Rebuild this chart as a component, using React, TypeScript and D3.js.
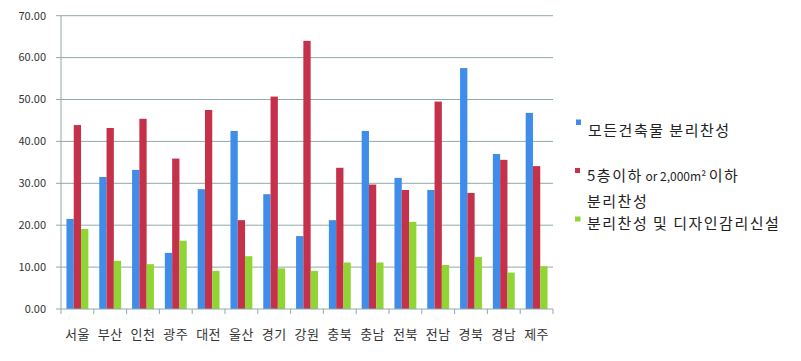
import React from "react";
import * as d3 from "d3";

const categories = ["서울", "부산", "인천", "광주", "대전", "울산", "경기", "강원", "충북", "충남", "전북", "전남", "경북", "경남", "제주"];
const allBuildings = [21.5, 31.5, 33.2, 13.4, 28.6, 42.5, 27.4, 17.4, 21.2, 42.5, 31.3, 28.4, 57.5, 37.0, 46.8];
const smallBuildings = [43.9, 43.2, 45.4, 35.9, 47.5, 21.2, 50.7, 64.0, 33.7, 29.7, 28.4, 49.5, 27.7, 35.6, 34.1];
const designSupervision = [19.1, 11.5, 10.7, 16.3, 9.1, 12.6, 9.7, 9.1, 11.1, 11.1, 20.8, 10.5, 12.4, 8.7, 10.2];
const seriesNames = ["모든건축물 분리찬성", "5층이하| or 2,000m² |이하|분리찬성", "분리찬성 및 디자인감리신설"];
const yTicks = [0, 10, 20, 30, 40, 50, 60, 70];

const colors = ["#3F8DE8", "#C5304A", "#8FD534"];
const gridColor = "#8FAAAA";
const font = "'Noto Sans CJK KR', 'Noto Sans', sans-serif";

export default function App() {
  const left = 61, right = 553, top = 15.7, bottom = 309;
  const x = d3.scaleBand<string>().domain(categories).range([left, right]).paddingInner(0).paddingOuter(0);
  const y = d3.scaleLinear().domain([0, 70]).range([bottom, top]);
  const inner = d3.scaleBand<number>().domain([0, 1, 2]).range([0, x.bandwidth()]).paddingInner(0).paddingOuter(0.75);
  const series = [allBuildings, smallBuildings, designSupervision];
  const bw = inner.bandwidth();
  const lf = 15;
  const ls = 1.5;
  const parts = seriesNames[1].split("|");

  return (
    <svg width={801} height={361} style={{ position: "absolute", left: 0, top: 0, background: "#fff" }}>
      {yTicks.map((t) => (
        <g key={t}>
          {t > 0 && <line x1={left} x2={right} y1={y(t)} y2={y(t)} stroke={gridColor} strokeWidth={1} />}
          <line x1={left - 5} x2={left} y1={y(t)} y2={y(t)} stroke={gridColor} strokeWidth={1} />
          <text x={46} y={y(t)} dy="0.35em" textAnchor="end" fontFamily={font} fontSize={11} fill="#333">
            {t.toFixed(2)}
          </text>
        </g>
      ))}
      {series.map((vals, si) =>
        categories.map((c, i) => (
          <rect
            key={si + "-" + c}
            x={(x(c) as number) + (inner(si) as number)}
            y={y(vals[i])}
            width={bw}
            height={bottom - y(vals[i])}
            fill={colors[si]}
          />
        ))
      )}
      <line x1={left} x2={left} y1={top} y2={bottom} stroke={gridColor} strokeWidth={1} />
      <line x1={left} x2={right} y1={bottom} y2={bottom} stroke={gridColor} strokeWidth={1} />
      {categories.map((c) => (
        <line key={"t" + c} x1={x(c) as number} x2={x(c) as number} y1={bottom} y2={bottom + 5} stroke={gridColor} />
      ))}
      <line x1={right} x2={right} y1={bottom} y2={bottom + 5} stroke={gridColor} />
      {categories.map((c) => (
        <text key={"l" + c} x={(x(c) as number) + x.bandwidth() / 2} y={334} dy="0.35em" textAnchor="middle" fontFamily={font} fontSize={13} letterSpacing={0.5} fill="#333">
          {c}
        </text>
      ))}
      {/* legend */}
      <rect x={576} y={119.5} width={5} height={5.5} fill={colors[0]} />
      <text x={588} y={131} dy="0.35em" fontFamily={font} fontSize={lf} letterSpacing={ls} fill="#222">{seriesNames[0]}</text>
      <rect x={575} y={168} width={5} height={5} fill={colors[1]} />
      <text x={587} y={175.5} dy="0.35em" fontFamily={font} fontSize={lf} letterSpacing={ls} fill="#222">
        <tspan>{parts[0]}</tspan>
        <tspan fontSize={12} letterSpacing={0}>{parts[1]}</tspan>
        <tspan>{parts[2]}</tspan>
      </text>
      <text x={587} y={202} dy="0.35em" fontFamily={font} fontSize={lf} letterSpacing={ls} fill="#222">
        {parts[3]}
      </text>
      <rect x={575} y={216.5} width={5.5} height={5} fill={colors[2]} />
      <text x={587} y={223.5} dy="0.35em" fontFamily={font} fontSize={lf} letterSpacing={ls} fill="#222">{seriesNames[2]}</text>
    </svg>
  );
}
